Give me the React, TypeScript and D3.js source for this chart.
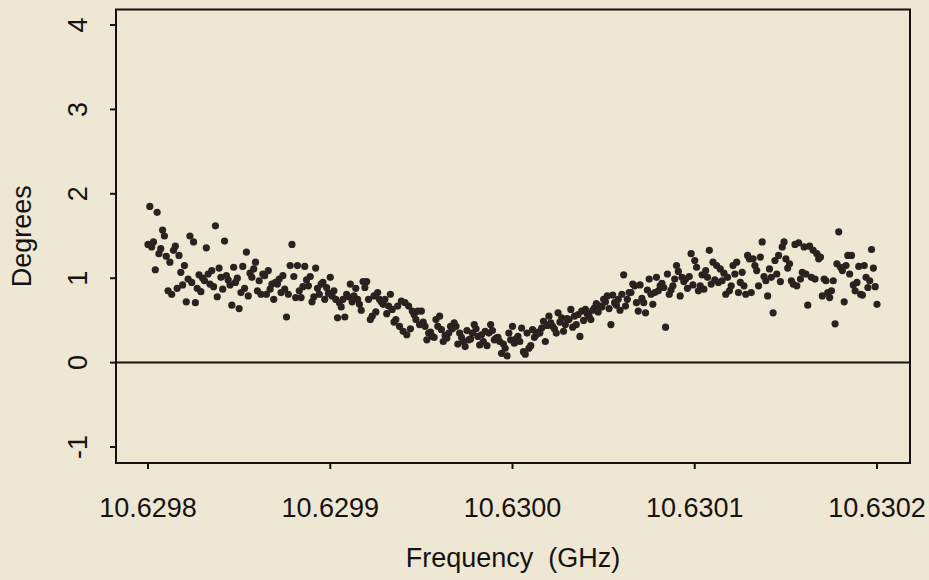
import React from "react";
import * as d3 from "d3";

const startFreq = 10.6298; // GHz
const stepFreq = 0.000001; // GHz between samples

// Phase (degrees), in frequency order (401 samples)
const degrees: number[] = [
  1.40, 1.85, 1.37, 1.43, 1.10, 1.78, 1.29, 1.35, 1.57, 1.50, 1.26, 0.85, 1.19, 0.81, 1.33, 1.38, 0.88, 1.27, 1.07, 0.92,
  1.15, 0.72, 0.99, 1.50, 0.95, 1.43, 0.71, 0.88, 1.04, 0.84, 1.00, 0.97, 1.36, 1.05, 0.93, 1.09, 0.90, 1.62, 0.78, 1.12,
  1.01, 0.87, 1.44, 1.03, 0.98, 0.92, 0.68, 1.13, 0.95, 1.00, 0.64, 0.83, 1.14, 0.88, 1.31, 0.79, 1.06, 1.01, 1.11, 1.19,
  0.85, 0.97, 0.81, 1.05, 1.03, 0.81, 1.09, 0.87, 0.93, 0.75, 0.95, 0.93, 0.99, 0.83, 1.03, 0.87, 0.54, 0.81, 1.15, 1.40,
  1.02, 0.77, 1.15, 0.85, 0.77, 0.90, 1.14, 0.98, 0.91, 1.02, 0.72, 0.78, 1.12, 0.88, 0.81, 0.93, 0.95, 0.75, 0.89, 0.82,
  1.01, 0.79, 0.85, 0.75, 0.53, 0.71, 0.66, 0.75, 0.54, 0.81, 0.78, 0.93, 0.72, 0.79, 0.88, 0.75, 0.69, 0.62, 0.96, 0.89,
  0.96, 0.75, 0.51, 0.55, 0.79, 0.60, 0.83, 0.75, 0.72, 0.69, 0.75, 0.58, 0.67, 0.81, 0.63, 0.48, 0.51, 0.67, 0.43, 0.73,
  0.37, 0.71, 0.33, 0.67, 0.40, 0.61, 0.57, 0.51, 0.61, 0.45, 0.61, 0.48, 0.43, 0.27, 0.35, 0.36, 0.31, 0.30, 0.51, 0.43,
  0.55, 0.39, 0.25, 0.32, 0.29, 0.35, 0.43, 0.40, 0.47, 0.43, 0.22, 0.35, 0.30, 0.25, 0.19, 0.38, 0.27, 0.28, 0.35, 0.45,
  0.40, 0.31, 0.21, 0.33, 0.25, 0.37, 0.20, 0.35, 0.45, 0.38, 0.27, 0.29, 0.30, 0.25, 0.11, 0.22, 0.17, 0.08, 0.35, 0.27,
  0.43, 0.23, 0.28, 0.31, 0.25, 0.41, 0.13, 0.10, 0.35, 0.17, 0.20, 0.39, 0.30, 0.33, 0.36, 0.35, 0.41, 0.49, 0.25, 0.44,
  0.55, 0.47, 0.43, 0.40, 0.35, 0.59, 0.48, 0.53, 0.37, 0.45, 0.52, 0.51, 0.63, 0.42, 0.55, 0.45, 0.57, 0.31, 0.61, 0.50,
  0.63, 0.58, 0.55, 0.51, 0.62, 0.65, 0.70, 0.60, 0.67, 0.66, 0.75, 0.72, 0.79, 0.64, 0.45, 0.80, 0.71, 0.68, 0.75, 0.62,
  0.81, 1.04, 0.67, 0.75, 0.83, 0.83, 0.93, 0.91, 0.71, 0.61, 0.92, 0.76, 0.71, 0.59, 0.86, 0.99, 0.81, 0.69, 0.83, 1.01,
  0.85, 0.91, 0.94, 0.89, 0.42, 1.05, 0.81, 0.86, 0.91, 0.99, 1.15, 1.08, 0.79, 1.01, 0.96, 0.99, 0.88, 1.02, 1.29, 0.92,
  1.21, 1.13, 0.85, 0.91, 1.04, 0.87, 1.09, 1.01, 1.33, 0.93, 1.19, 0.98, 1.15, 0.95, 1.11, 0.97, 1.06, 0.81, 1.01, 0.85,
  0.91, 1.15, 1.05, 1.19, 0.83, 0.95, 1.07, 0.91, 0.81, 1.27, 1.23, 0.83, 1.23, 1.15, 1.09, 0.91, 1.25, 1.43, 1.02, 0.97,
  0.79, 1.11, 1.01, 0.59, 1.21, 1.05, 1.27, 0.96, 1.37, 1.43, 1.23, 1.12, 1.17, 0.97, 0.93, 1.40, 0.91, 1.42, 0.99, 1.07,
  1.37, 1.05, 0.68, 1.38, 1.01, 1.33, 0.99, 1.29, 1.23, 1.25, 0.79, 0.99, 0.97, 0.83, 0.77, 0.85, 0.97, 0.46, 1.17, 1.55,
  1.13, 1.09, 0.72, 1.15, 1.27, 1.05, 1.27, 0.92, 0.85, 0.95, 1.14, 0.81, 0.80, 1.15, 1.01, 0.89, 0.97, 1.34, 1.12, 0.90, 0.69,
];

const xTicks = [10.6298, 10.6299, 10.63, 10.6301, 10.6302];
const yTicks = [-1, 0, 1, 2, 3, 4];
const xTitle = "Frequency  (GHz)";
const yTitle = "Degrees";

const W = 929;
const H = 580;
const FONT = "'Liberation Sans', Arial, Helvetica, sans-serif";
const INK = "#171212";
const DOT = "#2a221f";
const BG = "#eee7d4";

export default function App() {
  const x = d3.scaleLinear().domain([10.6298, 10.6302]).range([148, 877]);
  const y = d3.scaleLinear().domain([-1, 4]).range([447, 25]);
  const box = { left: 116, right: 910, top: 9.5, bottom: 463 };
  const fmt = d3.format(".4f");
  const pts = degrees.map((d, i) => ({ f: startFreq + i * stepFreq, d }));

  return (
    <svg
      width={W}
      height={H}
      style={{ position: "absolute", left: 0, top: 0, background: BG }}
      fontFamily={FONT}
    >
      <rect x={0} y={0} width={W} height={H} fill={BG} />
      {/* zero line */}
      <line x1={box.left} x2={box.right} y1={y(0)} y2={y(0)} stroke={INK} strokeWidth={2} />
      {/* points */}
      <g fill={DOT}>
        {pts.map((p, i) => (
          <circle key={i} cx={x(p.f)} cy={y(p.d)} r={3.6} />
        ))}
      </g>
      {/* frame */}
      <rect
        x={box.left}
        y={box.top}
        width={box.right - box.left}
        height={box.bottom - box.top}
        fill="none"
        stroke={INK}
        strokeWidth={2}
      />
      {/* x ticks */}
      {xTicks.map((t) => (
        <g key={t}>
          <line x1={x(t)} x2={x(t)} y1={box.bottom} y2={box.bottom + 6} stroke={INK} strokeWidth={2} />
          <text x={x(t)} y={517} textAnchor="middle" fontSize={27} fill={INK}>
            {fmt(t)}
          </text>
        </g>
      ))}
      {/* y ticks */}
      {yTicks.map((t) => (
        <g key={t}>
          <line x1={box.left - 6} x2={box.left} y1={y(t)} y2={y(t)} stroke={INK} strokeWidth={2} />
          <text
            transform={`translate(87,${y(t)}) rotate(-90)`}
            textAnchor="middle"
            fontSize={27}
            fill={INK}
          >
            {String(t)}
          </text>
        </g>
      ))}
      <text x={(box.left + box.right) / 2} y={567} textAnchor="middle" fontSize={27} fill={INK} style={{ whiteSpace: "pre" }}>
        {xTitle}
      </text>
      <text
        transform={`translate(31,${(box.top + box.bottom) / 2}) rotate(-90)`}
        textAnchor="middle"
        fontSize={27}
        fill={INK}
      >
        {yTitle}
      </text>
    </svg>
  );
}
